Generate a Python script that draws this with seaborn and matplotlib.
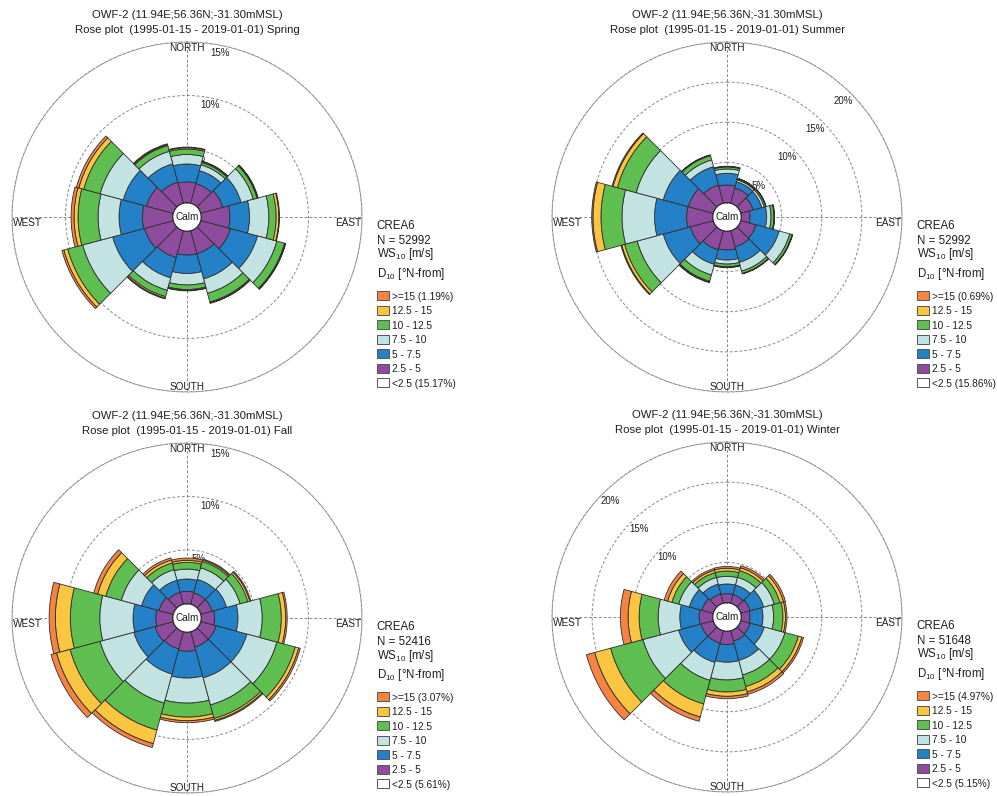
import matplotlib
matplotlib.use("Agg")
import matplotlib.pyplot as plt
from matplotlib.patches import Rectangle
import numpy as np
import seaborn as sns

# ---------------------------------------------------------------- data ----
# Direction sectors (degrees, N-from) and wind-speed bins [m/s]
sectors = [0, 30, 60, 90, 120, 150, 180, 210, 240, 270, 300, 330]
bin_labels = ["2.5 - 5", "5 - 7.5", "7.5 - 10", "10 - 12.5", "12.5 - 15", ">=15"]

seasons = ["Spring", "Summer", "Fall", "Winter"]
n_obs = [52992, 52992, 52416, 51648]
calm_pct = [15.17, 15.86, 5.61, 5.15]
rose_max = [15, 20, 15, 20]
ring_ticks = [[5, 10, 15], [5, 10, 15, 20], [5, 10, 15], [5, 10, 15, 20]]

# Frequency [%] per sector for each speed bin
spring_2p5_5 = [1.92, 1.88, 2.10, 2.66, 2.85, 2.20, 2.20, 2.57, 2.76, 2.82, 2.57, 2.01]
spring_5_7p5 = [1.68, 1.25, 1.78, 1.84, 2.62, 2.43, 1.73, 1.96, 3.08, 2.18, 2.24, 1.78]
spring_7p5_10 = [0.89, 0.56, 1.17, 1.80, 1.87, 1.40, 1.07, 1.21, 2.90, 1.96, 2.24, 1.21]
spring_10_12p5 = [0.51, 0.23, 0.37, 0.68, 0.75, 0.84, 0.42, 0.61, 1.45, 1.87, 1.59, 0.56]
spring_12p5_15 = [0.12, 0.09, 0.07, 0.25, 0.07, 0.09, 0.09, 0.14, 0.37, 0.37, 0.47, 0.09]
spring_ge15 = [0.06, 0.04, 0.04, 0.06, 0.04, 0.04, 0.04, 0.08, 0.19, 0.28, 0.24, 0.08]

summer_2p5_5 = [2.18, 1.93, 1.56, 1.06, 1.93, 2.06, 2.31, 2.43, 2.93, 3.24, 3.18, 2.31]
summer_5_7p5 = [1.46, 0.81, 1.12, 2.08, 2.99, 1.99, 1.25, 1.87, 3.49, 3.99, 3.24, 2.37]
summer_7p5_10 = [0.54, 0.25, 0.31, 0.54, 1.37, 1.12, 0.50, 1.37, 3.36, 4.05, 3.49, 0.87]
summer_10_12p5 = [0.25, 0.12, 0.19, 0.37, 0.31, 0.31, 0.34, 0.81, 1.62, 2.62, 2.43, 0.56]
summer_12p5_15 = [0.05, 0.06, 0.04, 0.05, 0.04, 0.04, 0.06, 0.12, 0.37, 1.00, 0.56, 0.06]
summer_ge15 = [0.04, 0.02, 0.02, 0.03, 0.02, 0.02, 0.05, 0.06, 0.11, 0.15, 0.12, 0.05]

fall_2p5_5 = [1.14, 1.07, 1.07, 1.23, 1.45, 1.45, 1.76, 1.64, 1.73, 1.57, 1.36, 1.12]
fall_5_7p5 = [1.15, 1.31, 1.40, 2.18, 2.99, 2.99, 2.50, 2.43, 2.06, 2.12, 1.68, 1.17]
fall_7p5_10 = [0.93, 1.12, 1.31, 2.27, 2.90, 2.62, 2.34, 2.80, 3.27, 3.11, 1.96, 1.03]
fall_10_12p5 = [0.63, 0.61, 0.75, 1.78, 1.78, 1.31, 1.31, 2.62, 2.90, 2.75, 1.50, 0.65]
fall_12p5_15 = [0.19, 0.14, 0.19, 0.41, 0.33, 0.19, 0.33, 1.31, 1.31, 1.40, 0.79, 0.28]
fall_ge15 = [0.21, 0.10, 0.10, 0.14, 0.16, 0.10, 0.19, 0.37, 0.53, 0.58, 0.38, 0.21]

winter_2p5_5 = [1.10, 1.06, 1.18, 1.06, 1.18, 1.31, 1.64, 1.56, 1.56, 1.68, 1.43, 1.18]
winter_5_7p5 = [1.21, 1.25, 1.74, 1.62, 1.81, 2.49, 2.19, 2.49, 2.87, 2.40, 1.62, 1.25]
winter_7p5_10 = [0.96, 1.00, 1.37, 1.33, 2.68, 1.87, 2.21, 2.31, 4.61, 2.70, 1.37, 0.87]
winter_10_12p5 = [0.66, 0.87, 0.75, 1.16, 1.74, 1.50, 1.50, 3.05, 4.17, 2.37, 0.87, 0.62]
winter_12p5_15 = [0.34, 0.37, 0.44, 0.31, 0.44, 0.69, 0.54, 1.68, 2.06, 1.37, 0.56, 0.31]
winter_ge15 = [0.22, 0.25, 0.25, 0.19, 0.22, 0.31, 0.30, 0.56, 1.06, 0.96, 0.44, 0.21]

season_bins = [
    [spring_2p5_5, spring_5_7p5, spring_7p5_10, spring_10_12p5, spring_12p5_15, spring_ge15],
    [summer_2p5_5, summer_5_7p5, summer_7p5_10, summer_10_12p5, summer_12p5_15, summer_ge15],
    [fall_2p5_5, fall_5_7p5, fall_7p5_10, fall_10_12p5, fall_12p5_15, fall_ge15],
    [winter_2p5_5, winter_5_7p5, winter_7p5_10, winter_10_12p5, winter_12p5_15, winter_ge15],
]

# ---------------------------------------------------------------- style ---
sns.set_theme(style="white")
plt.rcParams["font.family"] = ["Liberation Sans", "DejaVu Sans"]
plt.rcParams["mathtext.fontset"] = "custom"
plt.rcParams["mathtext.rm"] = "Liberation Sans"
plt.rcParams["mathtext.it"] = "Liberation Sans:italic"
plt.rcParams["mathtext.bf"] = "Liberation Sans:bold"

bin_colors = sns.color_palette(["#8E4C9E", "#2581C7", "#C3E3E3", "#5EBE4F", "#FAC541", "#F58442"])
TXT = "#1e1e1e"
GRID = "#8a8a8a"
EDGE = "#2e2e2e"

W, H = 997, 796
R = 175.0          # rose radius [px]
CALM = 14.5        # radius of the calm hole [px]
centers = [(187, 217), (727, 217), (187, 618), (727, 617)]
label_angle = [11.5, 45, 11.5, 315]
label_inset = [7.5, 10.5, 7.5, 10.5]


def fx(x):
    return x / W


def fy(y):
    return 1 - y / H


fig = plt.figure(figsize=(W / 100, H / 100), dpi=100)
fig.patch.set_facecolor("white")

theta = np.deg2rad(sectors)
width = np.deg2rad(30)

for i, season in enumerate(seasons):
    cx, cy = centers[i]
    rmax = rose_max[i]
    k = (R - CALM) / rmax   # px per percent

    ax = fig.add_axes([fx(cx - R), fy(cy + R), 2 * R / W, 2 * R / H], projection="polar")
    ax.set_facecolor("white")
    ax.set_theta_zero_location("N")
    ax.set_theta_direction(-1)
    ax.set_ylim(0, rmax)
    ax.set_rorigin(-CALM / k)

    # stacked sectors
    bottom = np.zeros(len(sectors))
    for vals, col in zip(season_bins[i], bin_colors):
        vals = np.asarray(vals)
        ax.bar(theta, vals, width=width, bottom=bottom, align="center",
               color=col, edgecolor=EDGE, linewidth=0.6, zorder=3)
        bottom += vals

    # grid: dashed rings and the N-S / E-W cross
    ax.set_xticks(np.deg2rad([0, 90, 180, 270]))
    ax.set_xticklabels([])
    ax.set_yticks(ring_ticks[i])
    ax.set_yticklabels([])
    ax.tick_params(size=0)
    ax.grid(True, color=GRID, linewidth=0.7, linestyle=(0, (3, 2)))
    ax.set_axisbelow(True)
    ax.spines["polar"].set_color(GRID)
    ax.spines["polar"].set_linewidth(0.7)
    ax.spines["polar"].set_linestyle((0, (3, 2)))
    if "inner" in ax.spines:
        ax.spines["inner"].set_visible(False)

    # ring labels (beneath the bars)
    for ring in ring_ticks[i]:
        ax.text(np.deg2rad(label_angle[i]), ring - label_inset[i] / k, f"{ring}%",
                ha="center", va="center", fontsize=7, color=TXT, zorder=2)

    # compass labels
    ax.text(0.5, 0.5 + 165.7 / (2 * R), "NORTH", transform=ax.transAxes,
            ha="center", va="baseline", fontsize=7.2, color=TXT, zorder=4)
    ax.text(0.5, 0.5 - 173.0 / (2 * R), "SOUTH", transform=ax.transAxes,
            ha="center", va="baseline", fontsize=7.2, color=TXT, zorder=4)
    ax.text(0.002, 0.5 - 9.3 / (2 * R), "WEST", transform=ax.transAxes,
            ha="left", va="baseline", fontsize=7.2, color=TXT, zorder=4)
    ax.text(0.998, 0.5 - 9.3 / (2 * R), "EAST", transform=ax.transAxes,
            ha="right", va="baseline", fontsize=7.2, color=TXT, zorder=4)
    ax.text(0.5, 0.5, "Calm", transform=ax.transAxes, ha="center", va="center",
            fontsize=7.2, color=TXT, zorder=5)

    # titles
    fig.text(fx(cx), fy(cy - 199), "OWF-2 (11.94E;56.36N;-31.30mMSL)",
             ha="center", va="baseline", fontsize=8.2, color=TXT)
    fig.text(fx(cx), fy(cy - 184), f"Rose plot  (1995-01-15 - 2019-01-01) {season}",
             ha="center", va="baseline", fontsize=8.2, color=TXT)

    # legend header
    lx = cx + 189.7
    header = ["CREA6", f"N = {n_obs[i]}", r"WS$_{\mathregular{10}}$ [m/s]",
              r"D$_{\mathregular{10}}$ [°N-from]"]
    for txt, dy in zip(header, [12, 27, 40.5, 59.7]):
        fig.text(fx(lx), fy(cy + dy), txt, ha="left", va="baseline",
                 fontsize=8.3, color=TXT)

    # legend entries (fastest bin on top)
    ge15_total = sum(season_bins[i][-1])
    entries = [(f">=15 ({ge15_total:.2f}%)", bin_colors[5]),
               (bin_labels[4], bin_colors[4]),
               (bin_labels[3], bin_colors[3]),
               (bin_labels[2], bin_colors[2]),
               (bin_labels[1], bin_colors[1]),
               (bin_labels[0], bin_colors[0]),
               (f"<2.5 ({calm_pct[i]:.2f}%)", "white")]
    for j, (txt, col) in enumerate(entries):
        yc = cy + 78.7 + 14.5 * j
        fig.add_artist(Rectangle((fx(lx), fy(yc + 4.65)), 12 / W, 9.3 / H,
                                 transform=fig.transFigure, facecolor=col,
                                 edgecolor="#555555", linewidth=0.7))
        fig.text(fx(cx + 204.7), fy(yc + 3.9), txt, ha="left", va="baseline",
                 fontsize=7.3, color=TXT)

fig.savefig("out.png", dpi=100, facecolor="white")
